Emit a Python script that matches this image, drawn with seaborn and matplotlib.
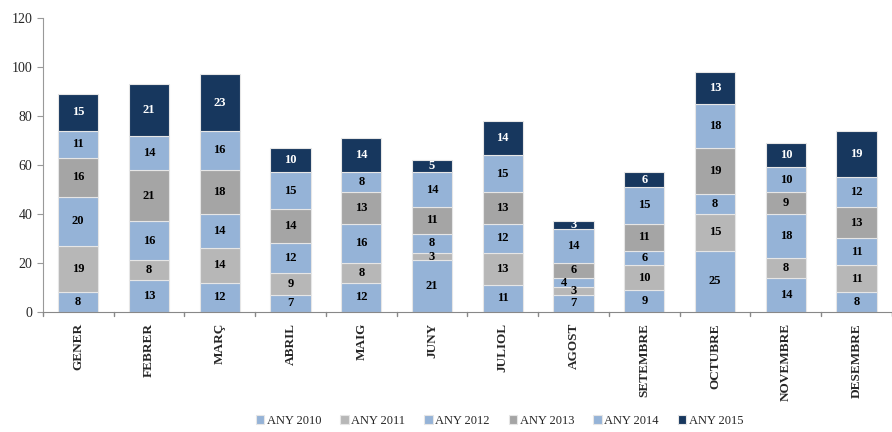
import numpy as np
import pandas as pd
import matplotlib
matplotlib.use("Agg")
import matplotlib.pyplot as plt
import seaborn as sns

# Data
months = ["GENER", "FEBRER", "MARÇ", "ABRIL", "MAIG", "JUNY",
          "JULIOL", "AGOST", "SETEMBRE", "OCTUBRE", "NOVEMBRE", "DESEMBRE"]
any_2010 = [8, 13, 12, 7, 12, 21, 11, 7, 9, 25, 14, 8]
any_2011 = [19, 8, 14, 9, 8, 3, 13, 3, 10, 15, 8, 11]
any_2012 = [20, 16, 14, 12, 16, 8, 12, 4, 6, 8, 18, 11]
any_2013 = [16, 21, 18, 14, 13, 11, 13, 6, 11, 19, 9, 13]
any_2014 = [11, 14, 16, 15, 8, 14, 15, 14, 15, 18, 10, 12]
any_2015 = [15, 21, 23, 10, 14, 5, 14, 3, 6, 13, 10, 19]
series_names = ["ANY 2010", "ANY 2011", "ANY 2012", "ANY 2013", "ANY 2014", "ANY 2015"]
colors = ["#95B3D7", "#B7B7B7", "#95B3D7", "#A5A5A5", "#95B3D7", "#17375E"]

series = [any_2010, any_2011, any_2012, any_2013, any_2014, any_2015]

sns.set_style("white")
plt.rcParams["font.family"] = ["Liberation Serif", "DejaVu Serif"]

fig = plt.figure(figsize=(8.92, 4.32), dpi=100)
ax = fig.add_axes([0.048, 0.278, 0.952, 0.680])

bottom = np.zeros(len(months))
prev = None
for name, vals, col in zip(series_names, series, colors):
    df = pd.DataFrame({"mes": months, "valor": vals})
    sns.barplot(data=df, x="mes", y="valor", color=col, bottom=bottom,
                width=0.57, edgecolor="#E6E6E6", linewidth=0.8,
                saturation=1, ax=ax, label=name, errorbar=None)
    txt_col = "white" if col == "#17375E" else "black"
    for i, v in enumerate(vals):
        # nudge a tiny label sideways when it sits on another tiny segment
        dx = -0.14 if (prev is not None and v <= 4 and prev[i] <= 4) else 0
        ax.text(i + dx, bottom[i] + v / 2, str(v), ha="center", va="center",
                fontsize=9, fontweight="bold", color=txt_col)
    bottom += np.array(vals)
    prev = vals

ax.set_ylim(0, 120)
ax.set_xlim(-0.5, len(months) - 0.5)
ax.set_yticks(range(0, 121, 20))
ax.set_xlabel("")
ax.set_ylabel("")
ax.set_xticks(range(len(months)))
ax.set_xticklabels(months, rotation=90, fontsize=9.5, fontweight="bold")
ax.tick_params(axis="x", length=0, pad=8)
ax.tick_params(axis="y", labelsize=10, length=4, color="#999999", left=True)
# category separator ticks on x axis
for b in np.arange(-0.5, len(months), 1.0):
    ax.plot([b, b], [0, -1.8], color="#888888", lw=1, clip_on=False)

for s in ["top", "right"]:
    ax.spines[s].set_visible(False)
ax.spines["left"].set_color("#999999")
ax.spines["bottom"].set_color("#888888")

handles, labels = ax.get_legend_handles_labels()
if ax.get_legend() is not None:
    ax.get_legend().remove()
fig.legend(handles, labels, loc="lower center", bbox_to_anchor=(0.56, -0.015),
           ncol=6, frameon=False, fontsize=9, handlelength=0.7, handleheight=0.7,
           handletextpad=0.2, columnspacing=1.5)

fig.savefig("out.png", dpi=100)
